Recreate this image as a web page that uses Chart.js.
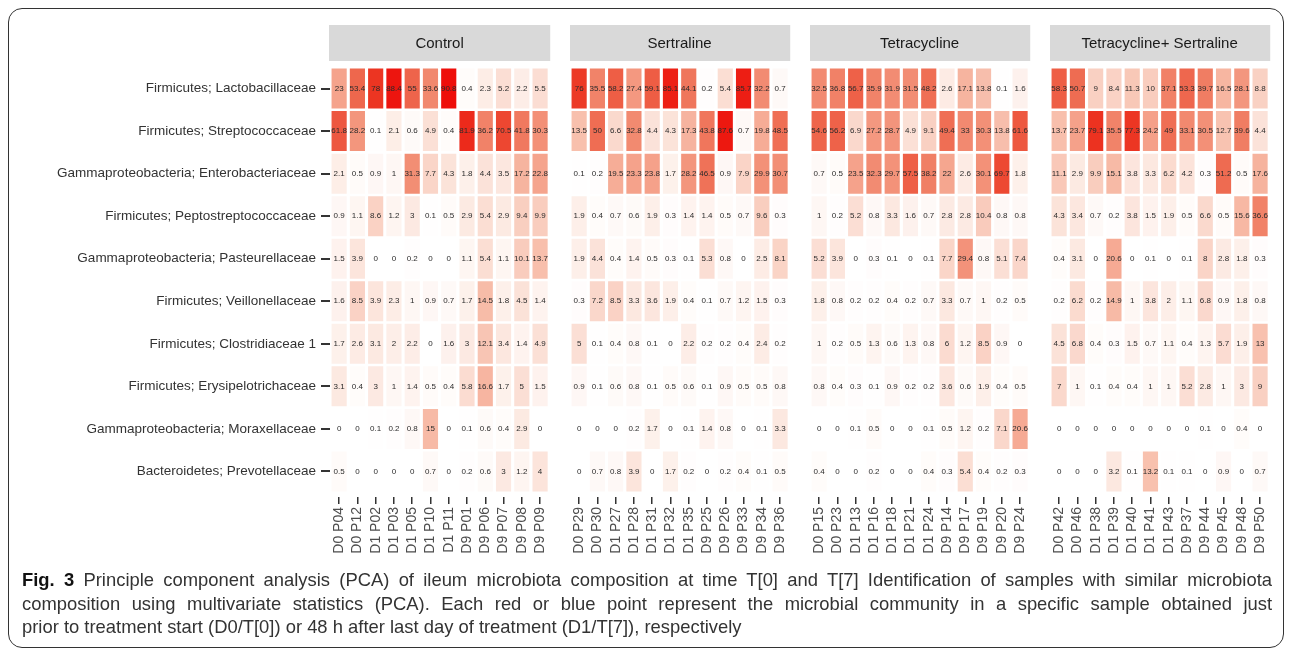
<!DOCTYPE html>
<html>
<head>
<meta charset="utf-8">
<script src="https://cdn.jsdelivr.net/npm/chart.js@4"></script>
<style>
  html, body { margin: 0; padding: 0; background: #fff; }
  body { width: 1292px; height: 649px; position: relative; overflow: hidden; font-family: "Liberation Sans", Arial, sans-serif; }
  .frame { position: absolute; left: 8px; top: 8px; width: 1276px; height: 640px; border: 1.5px solid #333; border-radius: 14px; box-sizing: border-box; }
  .panel { position: absolute; top: 0; height: 570px; }
  .caption { position: absolute; left: 22px; top: 568px; width: 1250px; font-size: 18.4px; line-height: 23.5px; color: #333; }
  .caption div { text-align: justify; text-align-last: justify; white-space: nowrap; }
  .caption div.last { text-align-last: left; }
  .caption b { color: #111; }
</style>
</head>
<body>
<div class="frame"></div>
<div class="panel" style="left:0;width:560px"><canvas id="p0"></canvas></div>
<div class="panel" style="left:570px;width:230px"><canvas id="p1"></canvas></div>
<div class="panel" style="left:810px;width:230px"><canvas id="p2"></canvas></div>
<div class="panel" style="left:1050px;width:230px"><canvas id="p3"></canvas></div>
<div class="caption">
  <div><b>Fig. 3</b> Principle component analysis (PCA) of ileum microbiota composition at time T[0] and T[7] Identification of samples with similar microbiota</div>
  <div>composition using multivariate statistics (PCA). Each red or blue point represent the microbial community in a specific sample obtained just</div>
  <div class="last">prior to treatment start (D0/T[0]) or 48 h after last day of treatment (D1/T[7]), respectively</div>
</div>

<script>
// taxa, top to bottom
const taxa = [
  'Firmicutes; Lactobacillaceae',
  'Firmicutes; Streptococcaceae',
  'Gammaproteobacteria; Enterobacteriaceae',
  'Firmicutes; Peptostreptococcaceae',
  'Gammaproteobacteria; Pasteurellaceae',
  'Firmicutes; Veillonellaceae',
  'Firmicutes; Clostridiaceae 1',
  'Firmicutes; Erysipelotrichaceae',
  'Gammaproteobacteria; Moraxellaceae',
  'Bacteroidetes; Prevotellaceae'
];

const groups = ['Control', 'Sertraline', 'Tetracycline', 'Tetracycline+ Sertraline'];

const controlSamples = ['D0 P04','D0 P12','D1 P02','D1 P03','D1 P05','D1 P10','D1 P11','D9 P01','D9 P06','D9 P07','D9 P08','D9 P09'];
const sertralineSamples = ['D0 P29','D0 P30','D1 P27','D1 P28','D1 P31','D1 P32','D1 P35','D9 P25','D9 P26','D9 P33','D9 P34','D9 P36'];
const tetraSamples = ['D0 P15','D0 P23','D1 P13','D1 P16','D1 P18','D1 P21','D1 P24','D9 P14','D9 P17','D9 P19','D9 P20','D9 P24'];
const tetraSertSamples = ['D0 P42','D0 P46','D1 P38','D1 P39','D1 P40','D1 P41','D1 P43','D9 P37','D9 P44','D9 P45','D9 P48','D9 P50'];

// relative abundance (%), one row per taxon
const controlValues = [
  [23, 53.4, 78, 88.4, 55, 33.6, 90.8, 0.4, 2.3, 5.2, 2.2, 5.5],
  [61.8, 28.2, 0.1, 2.1, 0.6, 4.9, 0.4, 81.9, 36.2, 70.5, 41.8, 30.3],
  [2.1, 0.5, 0.9, 1, 31.3, 7.7, 4.3, 1.8, 4.4, 3.5, 17.2, 22.8],
  [0.9, 1.1, 8.6, 1.2, 3, 0.1, 0.5, 2.9, 5.4, 2.9, 9.4, 9.9],
  [1.5, 3.9, 0, 0, 0.2, 0, 0, 1.1, 5.4, 1.1, 10.1, 13.7],
  [1.6, 8.5, 3.9, 2.3, 1, 0.9, 0.7, 1.7, 14.5, 1.8, 4.5, 1.4],
  [1.7, 2.6, 3.1, 2, 2.2, 0, 1.6, 3, 12.1, 3.4, 1.4, 4.9],
  [3.1, 0.4, 3, 1, 1.4, 0.5, 0.4, 5.8, 16.6, 1.7, 5, 1.5],
  [0, 0, 0.1, 0.2, 0.8, 15, 0, 0.1, 0.6, 0.4, 2.9, 0],
  [0.5, 0, 0, 0, 0, 0.7, 0, 0.2, 0.6, 3, 1.2, 4]
];
const sertralineValues = [
  [76, 35.5, 58.2, 27.4, 59.1, 85.1, 44.1, 0.2, 5.4, 85.7, 32.2, 0.7],
  [13.5, 50, 6.6, 32.8, 4.4, 4.3, 17.3, 43.8, 87.6, 0.7, 19.8, 48.5],
  [0.1, 0.2, 19.5, 23.3, 23.8, 1.7, 28.2, 46.5, 0.9, 7.9, 29.9, 30.7],
  [1.9, 0.4, 0.7, 0.6, 1.9, 0.3, 1.4, 1.4, 0.5, 0.7, 9.6, 0.3],
  [1.9, 4.4, 0.4, 1.4, 0.5, 0.3, 0.1, 5.3, 0.8, 0, 2.5, 8.1],
  [0.3, 7.2, 8.5, 3.3, 3.6, 1.9, 0.4, 0.1, 0.7, 1.2, 1.5, 0.3],
  [5, 0.1, 0.4, 0.8, 0.1, 0, 2.2, 0.2, 0.2, 0.4, 2.4, 0.2],
  [0.9, 0.1, 0.6, 0.8, 0.1, 0.5, 0.6, 0.1, 0.9, 0.5, 0.5, 0.8],
  [0, 0, 0, 0.2, 1.7, 0, 0.1, 1.4, 0.8, 0, 0.1, 3.3],
  [0, 0.7, 0.8, 3.9, 0, 1.7, 0.2, 0, 0.2, 0.4, 0.1, 0.5]
];
const tetraValues = [
  [32.5, 36.8, 56.7, 35.9, 31.9, 31.5, 48.2, 2.6, 17.1, 13.8, 0.1, 1.6],
  [54.6, 56.2, 6.9, 27.2, 28.7, 4.9, 9.1, 49.4, 33, 30.3, 13.8, 61.6],
  [0.7, 0.5, 23.5, 32.3, 29.7, 57.5, 38.2, 22, 2.6, 30.1, 69.7, 1.8],
  [1, 0.2, 5.2, 0.8, 3.3, 1.6, 0.7, 2.8, 2.8, 10.4, 0.8, 0.8],
  [5.2, 3.9, 0, 0.3, 0.1, 0, 0.1, 7.7, 29.4, 0.8, 5.1, 7.4],
  [1.8, 0.8, 0.2, 0.2, 0.4, 0.2, 0.7, 3.3, 0.7, 1, 0.2, 0.5],
  [1, 0.2, 0.5, 1.3, 0.6, 1.3, 0.8, 6, 1.2, 8.5, 0.9, 0],
  [0.8, 0.4, 0.3, 0.1, 0.9, 0.2, 0.2, 3.6, 0.6, 1.9, 0.4, 0.5],
  [0, 0, 0.1, 0.5, 0, 0, 0.1, 0.5, 1.2, 0.2, 7.1, 20.6],
  [0.4, 0, 0, 0.2, 0, 0, 0.4, 0.3, 5.4, 0.4, 0.2, 0.3]
];
const tetraSertValues = [
  [58.3, 50.7, 9, 8.4, 11.3, 10, 37.1, 53.3, 39.7, 16.5, 28.1, 8.8],
  [13.7, 23.7, 79.1, 35.5, 77.3, 24.2, 49, 33.1, 30.5, 12.7, 39.6, 4.4],
  [11.1, 2.9, 9.9, 15.1, 3.8, 3.3, 6.2, 4.2, 0.3, 51.2, 0.5, 17.6],
  [4.3, 3.4, 0.7, 0.2, 3.8, 1.5, 1.9, 0.5, 6.6, 0.5, 15.6, 36.6],
  [0.4, 3.1, 0, 20.6, 0, 0.1, 0, 0.1, 8, 2.8, 1.8, 0.3],
  [0.2, 6.2, 0.2, 14.9, 1, 3.8, 2, 1.1, 6.8, 0.9, 1.8, 0.8],
  [4.5, 6.8, 0.4, 0.3, 1.5, 0.7, 1.1, 0.4, 1.3, 5.7, 1.9, 13],
  [7, 1, 0.1, 0.4, 0.4, 1, 1, 5.2, 2.8, 1, 3, 9],
  [0, 0, 0, 0, 0, 0, 0, 0, 0.1, 0, 0.4, 0],
  [0, 0, 0, 3.2, 0.1, 13.2, 0.1, 0.1, 0, 0.9, 0, 0.7]
];

const panelSamples = [controlSamples, sertralineSamples, tetraSamples, tetraSertSamples];
const panelValues = [controlValues, sertralineValues, tetraValues, tetraSertValues];

// white -> red fill scale
const colorStops = [
  [0, [255, 255, 255]], [2, [253, 238, 232]], [5, [251, 223, 213]], [15, [247, 186, 166]],
  [23, [245, 163, 140]], [35, [241, 132, 106]], [53, [238, 104, 78]], [70, [237, 72, 50]],
  [80, [236, 48, 30]], [92, [238, 10, 8]]
];
function fillFor(v) {
  for (let k = 1; k < colorStops.length; k++) {
    const [v1, c1] = colorStops[k];
    const [v0, c0] = colorStops[k - 1];
    if (v <= v1) {
      const t = (v - v0) / (v1 - v0);
      const c = c0.map((a, i) => Math.round(a + (c1[i] - a) * t));
      return `rgb(${c[0]},${c[1]},${c[2]})`;
    }
  }
  return 'rgb(238,10,8)';
}

const FONT = '"Liberation Sans", Arial, sans-serif';

// grey strip with the group name above each panel
const stripPlugin = {
  id: 'strip',
  beforeDraw(chart, args, opts) {
    const { ctx, chartArea } = chart;
    ctx.save();
    ctx.fillStyle = '#d9d9d9';
    ctx.fillRect(chartArea.left - 1, 25, chartArea.right - chartArea.left + 2, 36);
    ctx.fillStyle = '#1a1a1a';
    ctx.font = '15px ' + FONT;
    ctx.textAlign = 'center';
    ctx.textBaseline = 'middle';
    ctx.fillText(opts.text, (chartArea.left + chartArea.right) / 2, 44);
    ctx.restore();
  }
};

// numbers inside the tiles
const cellLabels = {
  id: 'cellLabels',
  afterDatasetsDraw(chart) {
    const { ctx } = chart;
    ctx.save();
    ctx.font = '8px ' + FONT;
    ctx.fillStyle = '#2b2b2b';
    ctx.textAlign = 'center';
    ctx.textBaseline = 'middle';
    chart.data.datasets.forEach((ds, i) => {
      chart.getDatasetMeta(i).data.forEach((bar, j) => {
        const p = bar.getCenterPoint();
        ctx.fillText(String(ds.values[j]), p.x, p.y);
      });
    });
    ctx.restore();
  }
};

function makePanel(idx) {
  const samples = panelSamples[idx];
  const values = panelValues[idx];
  const first = idx === 0;
  const datasets = taxa.map((name, r) => ({
    label: name,
    values: values[r],
    data: samples.map(() => [r + 0.03, r + 0.97]),
    backgroundColor: values[r].map(fillFor),
    borderWidth: 0,
    grouped: false,
    barPercentage: 0.83,
    categoryPercentage: 1
  }));

  new Chart(document.getElementById('p' + idx), {
    type: 'bar',
    data: { labels: samples, datasets },
    plugins: [stripPlugin, cellLabels],
    options: {
      responsive: true,
      maintainAspectRatio: false,
      animation: false,
      layout: { padding: { top: 63, right: 3, left: 0, bottom: 0 } },
      plugins: {
        legend: { display: false },
        tooltip: { enabled: false },
        strip: { text: groups[idx] }
      },
      scales: {
        x: {
          offset: true,
          grid: { offset: false, drawOnChartArea: false, tickLength: 7, color: '#333', lineWidth: 1.5 },
          border: { display: false },
          ticks: { minRotation: 90, maxRotation: 90, padding: 3, color: '#4d4d4d', font: { family: FONT, size: 14 }, autoSkip: false },
          afterFit(scale) { scale.height = 73; }
        },
        y: {
          display: first,
          reverse: true,
          min: -0.1,
          max: 10.1,
          afterBuildTicks(scale) { scale.ticks = taxa.map((_, r) => ({ value: r + 0.5 })); },
          grid: { drawOnChartArea: false, tickLength: 9, color: '#333', lineWidth: 2 },
          border: { display: false },
          ticks: {
            padding: 5,
            color: '#333',
            font: { family: FONT, size: 13.5 },
            callback: (v) => taxa[Math.round(v - 0.5)]
          },
          afterFit(scale) { if (first) scale.width = 330; }
        }
      }
    }
  });
}

[0, 1, 2, 3].forEach(makePanel);
</script>
</body>
</html>
